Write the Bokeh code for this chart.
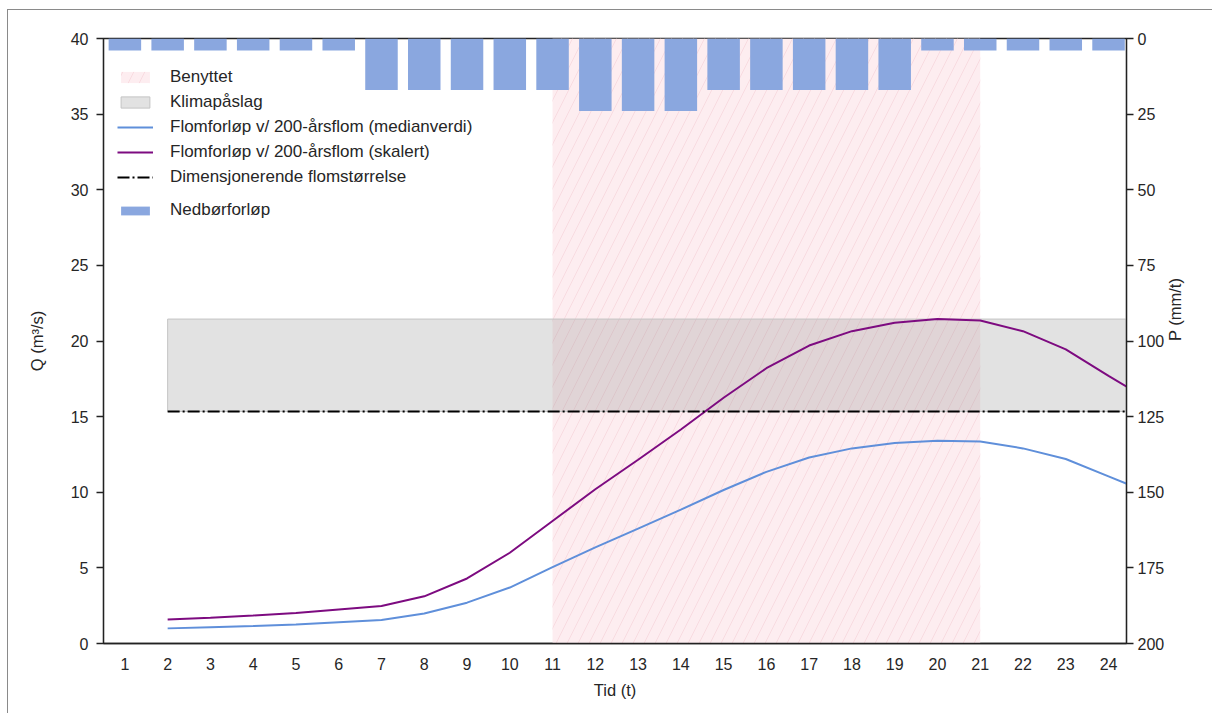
import math
from bokeh.plotting import figure
from bokeh.models import (Range1d, LinearAxis, FixedTicker, Legend, LegendItem,
                          ColumnDataSource)
from bokeh.embed import file_html
from bokeh.resources import INLINE

# ---- data ----
hours = list(range(1, 25))
precip = [4, 4, 4, 4, 4, 4, 17, 17, 17, 17, 17, 24, 24, 24, 17, 17, 17, 17, 17, 4, 4, 4, 4, 4]

t_flow = list(range(2, 26))
q_median = [1.0, 1.07, 1.15, 1.25, 1.4, 1.55, 1.98, 2.7, 3.7, 5.05, 6.35, 7.6,
            8.85, 10.15, 11.35, 12.3, 12.9, 13.25, 13.4, 13.35, 12.9, 12.2, 11.05, 9.9]
q_scaled = [1.58, 1.7, 1.85, 2.02, 2.25, 2.48, 3.12, 4.3, 6.0, 8.1, 10.2, 12.15,
            14.15, 16.25, 18.2, 19.7, 20.65, 21.2, 21.45, 21.35, 20.65, 19.45, 17.7, 16.0]

benyttet_start, benyttet_end = 11, 21
dim_flow = 15.34
klima_top = 21.45
band_start, band_end = 2, 25

q_ticks = [0, 5, 10, 15, 20, 25, 30, 35, 40]
p_ticks = [0, 25, 50, 75, 100, 125, 150, 175, 200]

FONT = "Liberation Sans"

p = figure(width=1205, height=704, output_backend="svg", toolbar_location=None,
           x_range=Range1d(0.5, 24.42), y_range=Range1d(0, 40),
           min_border_left=95, min_border_right=87, min_border_top=28, min_border_bottom=71)
p.styles = {"margin-left": "7px", "margin-top": "9px",
            "border-left": "1px solid #8a8a8a", "border-top": "1px solid #8a8a8a"}
p.extra_y_ranges = {"p": Range1d(200, 0)}

p.xgrid.visible = False
p.ygrid.visible = False
p.outline_line_color = "#222222"
p.outline_line_width = 1.3

# Benyttet (pink hatched)
r_ben = p.quad(left=[benyttet_start], right=[benyttet_end], bottom=[0], top=[40],
               fill_color="#FDEDF0", line_color=None,
               hatch_pattern="/", hatch_color="#F7D9DF", hatch_scale=22, hatch_weight=0.9)

# Klimapåslag band
r_kl = p.quad(left=[band_start], right=[band_end], bottom=[dim_flow], top=[klima_top],
              fill_color="#808080", fill_alpha=0.23, line_color="#C4C4C4", line_width=1)

# Precipitation bars (right axis, inverted)
src_p = ColumnDataSource(dict(x=hours, v=precip, z=[0] * len(hours)))
r_bar = p.vbar(x="x", width=0.76, top="z", bottom="v", source=src_p, y_range_name="p",
               fill_color="#8AA7DF", line_color=None)

# Lines
r_med = p.line(t_flow, q_median, line_color="#5F8FDA", line_width=2)
r_sc = p.line(t_flow, q_scaled, line_color="#7D0B80", line_width=2)
r_dim = p.line([band_start, band_end], [dim_flow, dim_flow], line_color="black",
               line_width=2.2, line_dash="12 3 2 3")

# Axes
p.xaxis.ticker = FixedTicker(ticks=hours)
p.xaxis.axis_label = "Tid (t)"
p.xaxis.minor_tick_line_color = None
p.xaxis.major_label_standoff = 8
p.xaxis.axis_label_standoff = 8

p.yaxis.ticker = FixedTicker(ticks=q_ticks)
p.yaxis.axis_label = "Q (m³/s)"
p.yaxis.minor_tick_line_color = None
p.yaxis.major_tick_in = 0
p.yaxis.major_tick_out = 7
p.yaxis.major_label_standoff = 8
p.yaxis.axis_label_standoff = 22

ax2 = LinearAxis(y_range_name="p", ticker=FixedTicker(ticks=p_ticks), axis_label="P (mm/t)")
ax2.minor_tick_line_color = None
ax2.major_tick_in = 0
ax2.major_tick_out = 7
ax2.major_label_standoff = 4
ax2.axis_label_standoff = 8
ax2.axis_label_orientation = math.pi / 2
p.add_layout(ax2, "right")

for ax in [p.xaxis[0], p.yaxis[0], ax2]:
    ax.axis_line_color = "#222222"
    ax.axis_line_width = 1.3
    ax.major_tick_line_color = "#222222"
    ax.major_tick_line_width = 1.3
    ax.major_label_text_font = FONT
    ax.major_label_text_font_size = "16px"
    ax.major_label_text_color = "#262626"
    ax.axis_label_text_font = FONT
    ax.axis_label_text_font_size = "16.5px"
    ax.axis_label_text_font_style = "normal"
    ax.axis_label_text_color = "#262626"
p.xaxis.major_tick_line_color = None


def style_legend(lg):
    lg.background_fill_alpha = 0
    lg.border_line_alpha = 0
    lg.padding = 5
    lg.margin = 0
    lg.spacing = 5
    lg.glyph_width = 36
    lg.glyph_height = 14
    lg.label_height = 20
    lg.label_standoff = 17
    lg.label_text_font = FONT
    lg.label_text_font_size = "17px"
    lg.label_text_color = "#262626"


legend = Legend(items=[
    LegendItem(label="Benyttet", renderers=[r_ben]),
    LegendItem(label="Klimapåslag", renderers=[r_kl]),
    LegendItem(label="Flomforløp v/ 200-årsflom (medianverdi)", renderers=[r_med]),
    LegendItem(label="Flomforløp v/ 200-årsflom (skalert)", renderers=[r_sc]),
    LegendItem(label="Dimensjonerende flomstørrelse", renderers=[r_dim]),
], location=(9, 451))
style_legend(legend)
p.add_layout(legend, "center")

legend2 = Legend(items=[LegendItem(label="Nedbørforløp", renderers=[r_bar])],
                 location=(9, 418))
style_legend(legend2)
legend2.glyph_height = 11
p.add_layout(legend2, "center")

open("out.html", "w").write(file_html(p, INLINE))
